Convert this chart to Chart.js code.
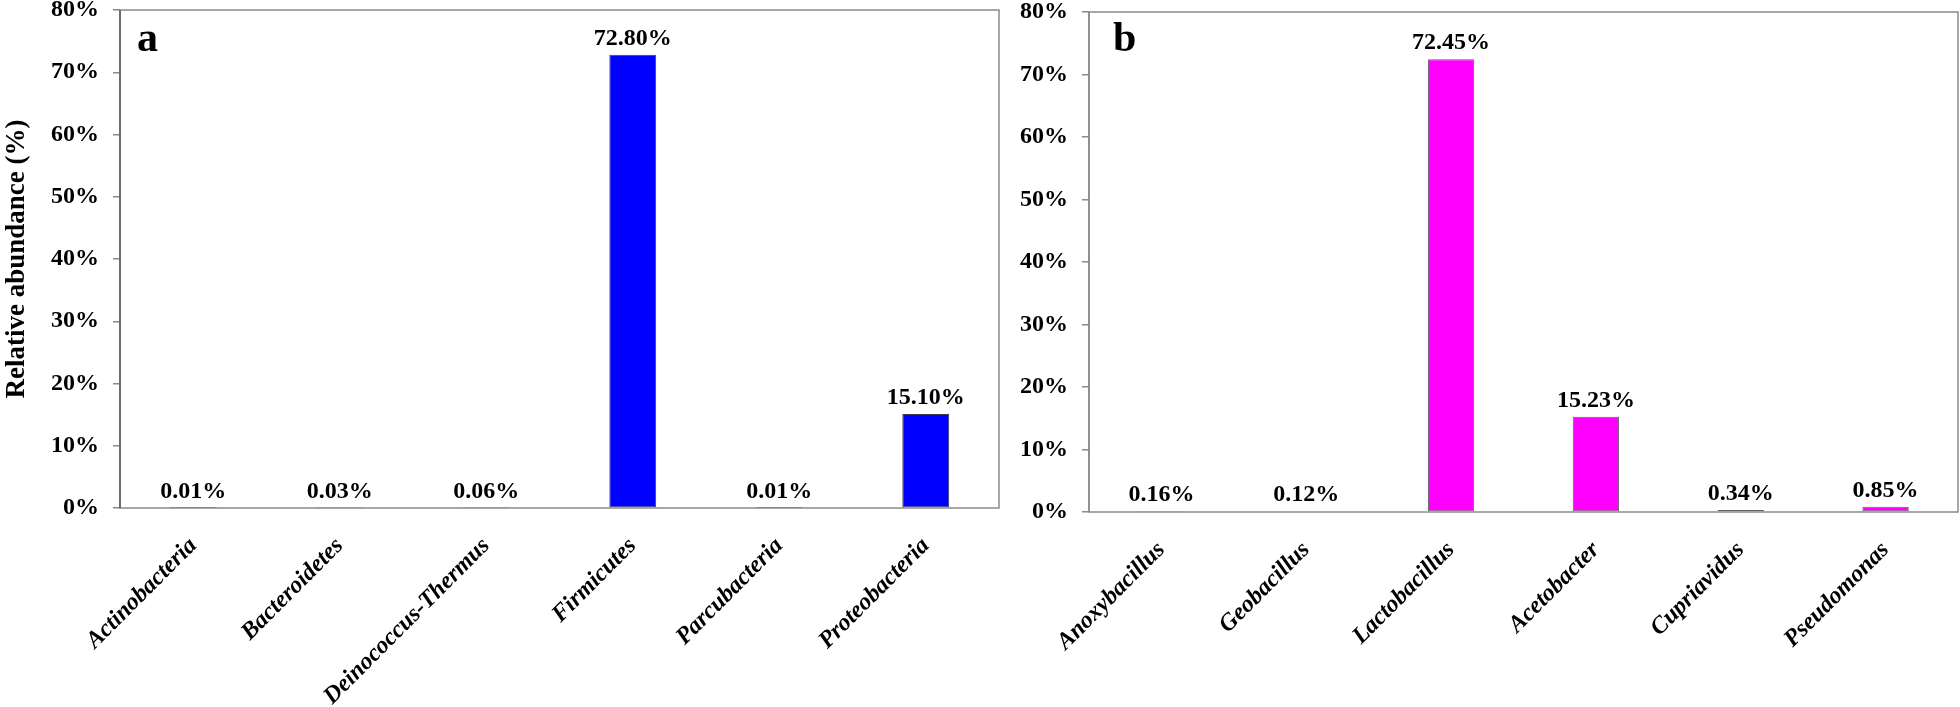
<!DOCTYPE html>
<html>
<head>
<meta charset="utf-8">
<script src="https://cdn.jsdelivr.net/npm/chart.js@4/dist/chart.umd.min.js"></script>
<style>
    body { margin: 0; background: #fff; width: 1960px; height: 707px; overflow: hidden; }
    .painel { position: absolute; top: 0; height: 707px; }
    #painelA { left: 0; width: 1010px; }
    #painelB { left: 1000px; width: 960px; }
</style>
</head>
<body>
<div class="painel" id="painelA"><canvas id="graficoA"></canvas></div>
<div class="painel" id="painelB"><canvas id="graficoB"></canvas></div>
<script>
// DATA
const filos = ['Actinobacteria', 'Bacteroidetes', 'Deinococcus-Thermus', 'Firmicutes', 'Parcubacteria', 'Proteobacteria'];
const valoresFilos = [0.01, 0.03, 0.06, 72.80, 0.01, 15.10];

const generos = ['Anoxybacillus', 'Geobacillus', 'Lactobacillus', 'Acetobacter', 'Cupriavidus', 'Pseudomonas'];
const valoresGeneros = [0.16, 0.12, 72.45, 15.23, 0.34, 0.85];

const ticksY = [0, 10, 20, 30, 40, 50, 60, 70, 80];
const tituloY = 'Relative abundance (%)';

const fonte = "'Liberation Serif', 'Times New Roman', serif";
const cinza = '#8a8a8a';

Chart.defaults.font.family = fonte;
Chart.defaults.color = '#000';

// moldura, rotulos das barras, letra do painel e titulo do eixo y
const extras = {
    id: 'extras',
    afterDatasetsDraw(chart, args, opts) {
        const c = chart.ctx;
        const area = chart.chartArea;
        c.save();
        c.strokeStyle = cinza;
        c.lineWidth = 1.5;
        c.strokeRect(area.left, area.top, area.right - area.left, area.bottom - area.top);

        // eixo da esquerda um pouco mais escuro
        c.strokeStyle = opts.eixo;
        c.beginPath();
        c.moveTo(area.left, area.top);
        c.lineTo(area.left, area.bottom);
        c.stroke();

        c.fillStyle = '#000';
        c.font = 'bold 24px ' + fonte;
        c.textAlign = 'center';
        c.textBaseline = 'alphabetic';
        const meta = chart.getDatasetMeta(0);
        meta.data.forEach((bar, i) => {
            const v = chart.data.datasets[0].data[i];
            c.fillText(v.toFixed(2) + '%', bar.x, bar.y - 10);
        });

        c.font = 'bold 42px ' + fonte;
        c.textAlign = 'left';
        c.fillText(opts.letra, area.left + opts.dx, 51);

        if (opts.titulo) {
            c.translate(24, (area.top + area.bottom) / 2);
            c.rotate(-Math.PI / 2);
            c.font = 'bold 27px ' + fonte;
            c.textAlign = 'center';
            c.fillText(opts.titulo, 0, 0);
        }
        c.restore();
    }
};

function criarGrafico(id, rotulos, valores, cor, borda, eixo, letra, dx, larguraY, alturaX, padTop, padRight, titulo) {
    return new Chart(document.getElementById(id), {
        type: 'bar',
        data: {
            labels: rotulos,
            datasets: [{
                data: valores,
                backgroundColor: cor,
                borderColor: borda,
                borderWidth: 1,
                borderSkipped: false,
                barPercentage: 0.32,
                categoryPercentage: 1
            }]
        },
        options: {
            responsive: true,
            maintainAspectRatio: false,
            animation: false,
            layout: { padding: { top: padTop, right: padRight, left: 0, bottom: 0 } },
            plugins: {
                legend: { display: false },
                tooltip: { enabled: false },
                extras: { letra: letra, dx: dx, titulo: titulo, eixo: eixo }
            },
            scales: {
                x: {
                    grid: { display: false },
                    border: { display: false },
                    ticks: {
                        autoSkip: false,
                        minRotation: 45,
                        maxRotation: 45,
                        padding: 16,
                        font: { size: 24, weight: 'bold', style: 'italic' }
                    },
                    afterFit(scale) {
                        scale.height = alturaX;
                        scale.paddingLeft = 0;
                        scale.paddingRight = 0;
                    }
                },
                y: {
                    min: 0,
                    max: 80,
                    afterBuildTicks(scale) {
                        scale.ticks = ticksY.map(v => ({ value: v }));
                    },
                    grid: { drawOnChartArea: false, tickLength: 7, color: cinza, lineWidth: 1.5 },
                    border: { display: false },
                    ticks: {
                        padding: 14,
                        callback: v => v + '%',
                        font: { size: 24, weight: 'bold' }
                    },
                    afterFit(scale) {
                        scale.width = larguraY;
                        scale.paddingTop = 0;
                        scale.paddingBottom = 0;
                    }
                }
            }
        },
        plugins: [extras]
    });
}

criarGrafico('graficoA', filos, valoresFilos, '#0000ff', '#3a3a5a', '#5a5a5a', 'a', 17, 120, 199, 10, 11, tituloY);
criarGrafico('graficoB', generos, valoresGeneros, '#ff00ff', '#606060', cinza, 'b', 24, 89, 195, 12, 2, '');
</script>
</body>
</html>
